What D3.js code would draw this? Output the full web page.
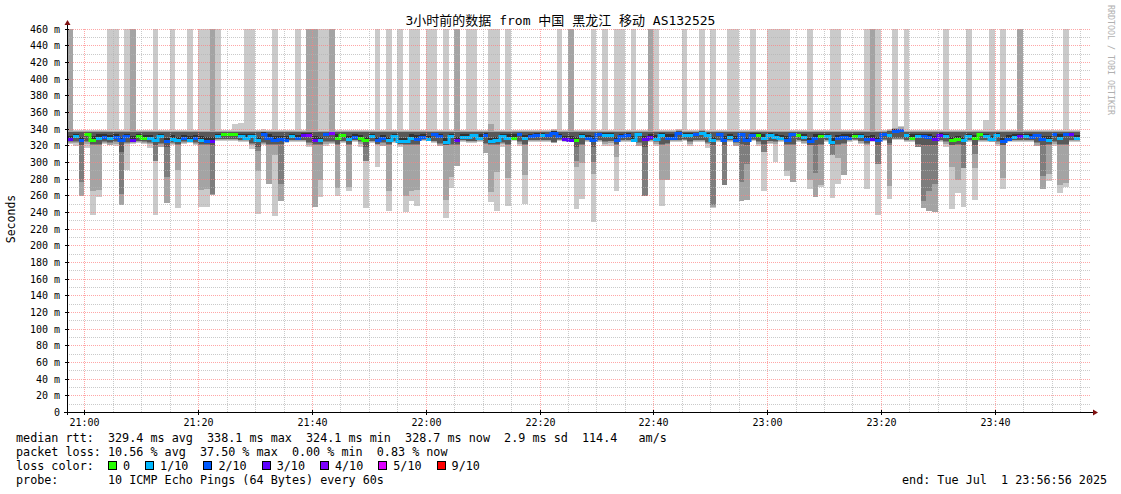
<!DOCTYPE html>
<html><head><meta charset="utf-8">
<script src="https://cdn.jsdelivr.net/npm/d3@7"></script>
<style>
html,body{margin:0;padding:0;background:#fff;}
svg{display:block;}
text{font-family:"DejaVu Sans Mono","Noto Sans CJK SC",monospace;}
</style></head><body>
<svg id="c" width="1121" height="494"></svg>
<script>
// ---- data: one value per minute, starting 20:57 ----
const medianRtt = [327.5,331.5,325.9,333.1,326.7,329.1,329.9,328.7,329.9,325.9,
331.5,326.3,331.5,328.7,328.3,325.9,331.5,325.1,327.9,325.9,
328.7,326.7,328.3,326.7,325.5,325.5,330.7,333.5,333.1,333.1,
331.5,329.1,331.5,325.9,333.9,329.1,326.3,327.5,326.3,330.7,
328.3,332.7,332.3,326.5,325.9,333.1,334.3,329.1,331.9,327.1,
330.3,328.3,325.9,331.5,325.9,328.7,325.9,331.5,325.1,325.1,
329.1,327.9,330.3,327.1,333.5,331.5,324.3,330.7,325.9,329.9,
330.3,331.9,329.0,332.7,325.1,325.7,330.5,329.1,329.1,333.5,
328.7,331.1,332.7,332.7,331.9,335.1,331.1,327.5,326.7,326.1,
330.5,328.3,326.5,333.5,332.7,332.3,325.9,331.5,332.7,326.7,
333.5,327.7,330.3,327.9,332.3,329.1,329.1,334.7,332.7,332.3,
333.1,334.3,332.3,325.9,333.5,326.7,330.3,326.7,333.5,325.9,
332.7,332.1,329.1,332.3,329.5,328.7,326.7,332.9,331.9,329.5,
324.9,329.1,330.7,331.3,324.3,328.3,330.3,329.1,331.3,331.3,
327.5,327.9,325.9,333.5,331.9,337.5,338.1,332.0,328.9,331.5,
331.1,330.3,327.5,332.7,330.7,326.0,327.0,325.9,330.9,328.5,
332.9,330.7,326.9,332.5,325.1,327.9,329.5,331.5,330.7,330.3,
331.7,327.7,326.7,333.3,329.1,333.1,333.1,328.7];

// lost pings per minute (index into lossColors)
const lossIdx = [3,1,2,0,0,1,2,1,2,2, 2,3,0,0,1,1,1,2,1,1, 2,1,2,1,2,3,1,0,0,0, 1,1,1,1,2,2,
2,2,2,1,2,3,4,3,1,2, 4,0,0,1,2,0,0,1,2,2, 1,1,1,1,1,2,2,1,2,2, 1,1,3,1,1,1,
1,2,1,1,1,1,0,2,1,2, 2,1,2,2,2,3,3,0,1,2, 2,2,1,1,2,2,2,1,1,3, 3,1,1,2,2,2,
1,1,2,1,1,1,2,2,1,2, 2,2,2,0,1,1,1,1,2,2, 0,1,2,2,0,1,1,2,2,2, 0,1,2,3,2,2,
1,2,2,1,0,1,2,2,3,3, 1,0,0,1,1,0,0,1,1,1, 2,2,1,3,1,2,2,2,1,2, 1,2,3,1];

// smoke: outermost ping pair (light), 2nd pair (mid), 3rd pair (dark), 4th pair (inner), 5th (core)
const topLight = [999,338.5,338.5,338.5,338.5,338.5,338.5,999,999,338.5,
999,999,338.5,338.5,338.5,999,338.5,338.5,999,338.5,
338.5,999,338.5,999,999,999,999,338.5,338.5,345,
347,999,999,338.5,339,338.5,999,338.5,338.5,338.5,
999,338.5,999,999,999,999,999,338.5,338.5,338.5,
338.5,338.5,338.5,338.5,999,338.5,999,338.5,999,338.5,
999,999,338.5,999,999,338.5,999,338.5,999,338.5,
999,999,338.5,338.5,999,999,338.5,999,338.5,338.5,
338.5,338.5,338.5,338.5,338.5,339,999,338.5,999,338.5,
338.5,338.5,999,338.5,999,338.5,999,999,338.5,999,
338.5,338.5,999,999,338.5,338.5,338.5,339,999,338.5,
338.5,999,338.5,999,338.5,338.5,999,999,338.5,338.5,
999,338.5,338.5,999,999,999,999,338.5,338.5,338.5,
999,338.5,338.5,338.5,999,999,338.5,338.5,338.5,338.5,
999,999,999,338.5,339.5,999,342.5,999,338.5,338.5,
338.5,338.5,338.5,338.5,999,338.5,338.5,338.5,999,338.5,
338.5,350.7,999,338.5,999,338.5,338.5,999,338.5,338.5,
338.5,338.5,338.5,338.5,338.5,999,338.5,338.5];

const topMid = [999,337,337,337,337,337,337,337,337,337,
337,999,337,337,337,337,337,337,337,337,
337,337,337,337,337,999,337,337,337,337,
337,337,337,337,337.5,337,337,337,337,337,
337,337,999,999,337,337,999,337,337,337,
337,337,337,337,337,337,337,337,337,337,
337,337,337,337,337,337,337,337,999,337,
337,337,337,337,345.5,337,337,337,337,337,
337,337,337,337,337,338,337,337,999,337,
337,337,337,337,337,337,337,337,337,337,
337,337,999,337,337,337,337,338,337,337,
337,338,337,337,337,337.5,337,337,337,337,
337,337,337,337,337,337,337,337,337,337,
337,337,337,337,337,337,337,337,337,337,
337,999,337,337,338.5,341,341.5,337,337,337,
337,337,337,337,337,337,337,337,337,337,
337,337,337,337,337,337,337,999,337,337,
337,337,337,337,337,337,337,337];

const innerHigh = [335.5,335.5,335.5,336,335.5,335.5,335.5,335.5,335.5,335.5,
335.5,335.5,335.5,335.5,335.5,335.5,335.5,335.5,335.5,335.5,
335.5,335.5,335.5,335.5,335.5,335.5,335.5,336,336,336,
335.5,335.5,335.5,335.5,336,335.5,335.5,335.5,335.5,335.5,
335.5,335.5,335.5,335.5,335.5,336,336,335.5,335.5,335.5,
335.5,335.5,335.5,335.5,335.5,335.5,335.5,335.5,335.5,335.5,
335.5,335.5,335.5,335.5,336,335.5,335.5,335.5,335.5,335.5,
335.5,335.5,335.5,335.5,335.5,335.5,335.5,335.5,335.5,336,
335.5,335.5,335.5,335.5,335.5,337,335.5,335.5,335.5,335.5,
335.5,335.5,335.5,336,335.5,335.5,335.5,335.5,335.5,335.5,
336,335.5,335.5,335.5,335.5,335.5,335.5,336.5,335.5,335.5,
336,336.5,335.5,335.5,336,335.5,335.5,335.5,336,335.5,
335.5,335.5,335.5,335.5,335.5,335.5,335.5,335.5,335.5,335.5,
335.5,335.5,335.5,335.5,335.5,335.5,335.5,335.5,335.5,335.5,
335.5,335.5,335.5,336,336.5,339.5,340,335.5,335.5,335.5,
335.5,335.5,335.5,335.5,335.5,335.5,335.5,335.5,335.5,335.5,
335.5,335.5,335.5,335.5,335.5,335.5,335.5,335.5,335.5,335.5,
335.5,335.5,335.5,336,335.5,336,336,335.5];

const coreHigh = [331.5,334,330,335,330.5,333,334,332.5,334,330,
334,330.5,334,332.5,332,330,334,329,332,330,
332.5,330.5,332,330.5,329.5,329.5,334,335,335,335,
334,333,334,330,335.5,333,330.5,331.5,330.5,334,
332,334.5,334.5,330.5,330,335,335.5,333,334,331,
334,332,330,334,330,332.5,330,334,329,329,
333,332,334,331,335,334,328.5,334,330,334,
334,334,333,334.5,329,329.5,334,333,333,335,
332.5,334,334.5,334.5,334,336.5,334,331.5,330.5,330,
334,332,330.5,335,334.5,334.5,330,334,334.5,330.5,
335,331.5,334,332,334.5,333,333,336,334.5,334.5,
335,335.5,334.5,330,335,330.5,334,330.5,335,330,
334.5,334.5,333,334.5,333.5,332.5,330.5,334.5,334,333.5,
329,333,334,334,328.5,332,334,333,334,334,
331.5,332,330,335,334,339,339.5,334,333,334,
334,334,331.5,334.5,334,330,331,330,334,332.5,
334.5,334,331,334.5,329,332,333.5,334,334,334,
334,331.5,330.5,335,333,335,335,332.5];

const lowLight = [322,319.5,259.4,316.3,236.2,257.4,321,320.3,319,248.2,
290.7,322,323,322,316.3,236.2,318,250.2,320,244.2,
322,323,320,245.4,245.4,260,325,325,325,325,
324,324,316,237.4,320,274,234.6,252.6,323,324,
324,323.5,317.5,245.4,257.4,319.5,322,258.6,323,264.6,
323.5,317.5,244.2,323,293.5,319.5,240.6,323,317.5,239.4,
252.6,246.6,325.5,325,323,319.5,232.2,268.2,294.7,323.5,
323,323,323.5,310.3,251.4,241.4,317.5,246.6,325.5,319.5,
249.8,324,324,324,324,323,325.5,324,323.5,243,
255,323.5,227.4,324,319.5,319.5,264.6,324,324,324,
319.5,259.4,324,319.5,246.6,278.7,324,324,325.5,319.5,
324,323.5,316.5,244.2,324,272.2,323.5,319.5,252.6,254.6,
325.5,319.5,264.6,321,299.5,323.5,282.7,275.4,324,321,
267,257.4,269.4,324,256.2,273.8,284.7,324,325.5,321.5,
267,324,236.2,325.5,255,326,326,323.5,324,317.5,
244.2,240.6,240.2,324,317.5,243.4,262.6,245.4,324,254.2,
324,324,323.5,319.5,267,324,324,324,324,324,
319.5,267,276.6,319.5,262.2,270.2,324,324];

const lowMid = [323,323,259.4,322,264.6,265.8,323,320.3,322,248.2,
321,323,324,323,321,301.5,318,250.2,322,290.7,
323,324,322,265.8,267,260,326,326,326,326,
325,325,320,288.7,322,274,308.7,252.6,324,325,
325,325,320,245.4,278.7,322,323,268.6,324,270,
325,322,301.5,324,320,319.5,264.6,324,320,259.4,
264.6,265.8,326,325.5,324,319.5,254.6,281.5,294.7,325,
324,324,325,310.3,263.4,287.5,321,280.3,326,322,
284.7,325,325,325,325,323,326,325,325,294,
299,325,285,325,322,323,306.3,325,325,325,
319.5,259.4,325,322,278.7,278.7,325,325,326,322,
325,325,321,246,325,272.2,325,319.5,252.6,254.6,
326,322,312.3,323,322,325,289.5,275.4,325,323,
278.7,257.4,272.6,325,308.7,305,284.7,325,326,323,
320,325,297.5,326,271.4,327,327,325,325,317.5,
244.2,240.6,240.2,325,322,293.5,278.3,292.3,325,292.3,
325,325,324,322,280.7,325,325,325,325,325,
319.5,267,285,322,272.6,275,325,325];

const lowDark = [324,324,275.5,324,320,320,324,323,324,261.4,
323,324,325,324,323,301.5,322,281.5,323,320,
324,325,323,320,320,261.4,327,327,327,327,
326,326,322,313.5,323,320,320,273.8,324.5,326,
326,326,323,320,320,324,324,320,325,320,
326,324,301.5,325,321,323,320,325,321,320,
320,320,326.5,326,325,322,320,320,320,326,
325,325,326,322,320,320,323,320,326.5,324,
320,326,326,326,326,323.5,326.5,325.5,325.5,301.5,
320,326,300.3,326,324,325,320,326,326,325.5,
323,259.4,326,324,320,322,326,326,326.5,324,
326,326,323,248.6,326,272.2,326,323,276.2,297.5,
326.5,324,312.3,325,324,326,320,320,326,325,
320,286.3,320,326,308.7,320,322,326,326.5,325,
322,325.5,297.5,326.5,320,328,328,326,326,317.5,
253.4,265.4,273.4,326,324,320,320,292.3,326,309,
326,326,325,324,320,326,326,326,326,326,
323,283.5,320,324,320,320,326,326];

const innerLow = [324.5,324.5,320.5,325,321,322,324.5,324,324.5,311.5,
324,324.5,325.5,324.5,324,320.5,323,318,324,321,
324.5,325.5,324,321,321,320.5,327.5,327.5,327.5,327.5,
326.5,326.5,323,318,324,322,321,321,325,326.5,
326.5,326.5,324,321,321,325,325,322,325.5,321,
326.5,324.5,318,325.5,321.5,324,321,325.5,321.5,321,
321,321,327,326.5,325.5,323,320.5,322,321,326.5,
325.5,325.5,326.5,323,321,321,324,322,327,325,
322,326.5,326.5,326.5,326.5,324,327,326,326,318,
322,326.5,318,326.5,325,325.5,321,326.5,326.5,326,
324,318,326.5,324.5,322,323,326.5,326.5,327,325,
326.5,326.5,324,320.5,326.5,320,326.5,324,321,320,
327,325,321,325.5,324.5,326.5,321,322,326.5,325.5,
320.5,320,322,326.5,320,321,323,326.5,327,325.5,
323,326,320,327,323,329,329,326.5,326.5,322,
320,320,320,326.5,324.5,320.5,321,320,326.5,320,
326.5,326.5,325.5,325,320.5,326.5,326.5,326.5,326.5,326.5,
324,320,321,325,322,322,326.5,326.5];

const lossColors = ["#26ff00","#00b8ff","#0059ff","#5e00ff","#7e00ff","#dd00ff","#ff0000"];
const lossLabels = ["0","1/10","2/10","3/10","4/10","5/10","9/10"];
const smokeColors = ["#cacaca","#a4a4a4","#7e7e7e","#585858","#323232"];
const yTicks = [0,20,40,60,80,100,120,140,160,180,200,220,240,260,280,300,320,340,360,380,400,420,440,460];
const titleText = "3小时前的数据 from 中国 黑龙江 移动 AS132525";
const legendLines = [
  "median rtt:  329.4 ms avg  338.1 ms max  324.1 ms min  328.7 ms now  2.9 ms sd  114.4   am/s",
  "packet loss: 10.56 % avg  37.50 % max  0.00 % min  0.83 % now",
  "loss color:",
  "probe:       10 ICMP Echo Pings (64 Bytes) every 60s"
];
const endText = "end: Tue Jul  1 23:56:56 2025";

// ---- drawing ----
const svg = d3.select('#c');
svg.append('rect').attr('width',1121).attr('height',494).attr('fill','#fff');
const start = new Date(2025,6,1,20,56,56), end = new Date(2025,6,1,23,56,56);
const firstMinute = new Date(2025,6,1,20,57,0);
const X0 = 67, X1 = 1091, Y0 = 412, YT = 28.5;
const x = d3.scaleTime().domain([start,end]).range([X0,X1]);
const y = d3.scaleLinear().domain([0,460]).range([Y0,YT]);
const N = medianRtt.length;
const tOf = i => d3.timeMinute.offset(firstMinute, i);
const edge = i => Math.round(x(tOf(i)));
const py = v => Math.round(y(Math.min(v, 470)));

svg.append('clipPath').attr('id','pc').append('rect')
  .attr('x',X0).attr('y',29).attr('width',X1-X0).attr('height',Y0-29);
const plot = svg.append('g').attr('clip-path','url(#pc)');

function band(color, lo, hi){
  plot.append('g').attr('fill',color).attr('shape-rendering','crispEdges')
    .selectAll('rect').data(d3.range(N)).join('rect')
    .attr('x', i => edge(i)).attr('width', i => edge(i+1)-edge(i))
    .attr('y', i => py(hi[i]))
    .attr('height', i => Math.max(0, py(lo[i]) - py(hi[i])));
}
band(smokeColors[0], lowLight, topLight);
band(smokeColors[1], lowMid, topMid);
band(smokeColors[2], lowDark, innerHigh);
band(smokeColors[3], innerLow, innerHigh);
band(smokeColors[4], medianRtt, coreHigh);

// grid (on top of smoke)
const grid = svg.append('g').attr('shape-rendering','crispEdges');
for (let v = 10; v <= 460; v += 10) {
  const major = v % 20 === 0;
  const yy = Math.round(y(v)) + 0.5;
  grid.append('line').attr('x1',X0).attr('x2',X1).attr('y1',yy).attr('y2',yy)
    .attr('stroke', major ? 'rgba(255,128,128,0.7)' : 'rgba(180,180,180,0.7)')
    .attr('stroke-dasharray','1,1');
}
d3.timeMinute.every(5).range(start, end).forEach(t => {
  const major = t.getMinutes() % 20 === 0;
  const xx = Math.round(x(t)) + 0.5;
  grid.append('line').attr('x1',xx).attr('x2',xx).attr('y1',29).attr('y2',Y0)
    .attr('stroke', major ? 'rgba(255,128,128,0.7)' : 'rgba(180,180,180,0.7)')
    .attr('stroke-dasharray','1,1');
});

// median line, coloured by loss (step line, LINE3)
const paths = lossColors.map(() => d3.path());
for (let i = 0; i < N; i++) {
  const p = paths[lossIdx[i]];
  const ym = Math.round(y(medianRtt[i])) + 0.5;
  if (i > 0 && lossIdx[i-1] === lossIdx[i]) p.lineTo(edge(i), ym);
  else p.moveTo(edge(i), ym);
  p.lineTo(edge(i+1), ym);
}
plot.append('g').selectAll('path').data(paths).join('path')
  .attr('d', p => p.toString()).attr('fill','none')
  .attr('stroke', (p,k) => lossColors[k]).attr('stroke-width',3);

// axes
svg.append('line').attr('x1',X0-3).attr('x2',X1+2).attr('y1',Y0+0.5).attr('y2',Y0+0.5)
  .attr('stroke','#000').attr('shape-rendering','crispEdges');
svg.append('line').attr('x1',X0+0.5).attr('x2',X0+0.5).attr('y1',Y0+3).attr('y2',24)
  .attr('stroke','#000').attr('shape-rendering','crispEdges');
svg.append('path').attr('d',`M${X1+2},${Y0-2.5}L${X1+7},${Y0+0.5}L${X1+2},${Y0+3.5}Z`).attr('fill','#7f1010');
svg.append('path').attr('d',`M${X0-2.5},${25}L${X0+0.5},${20}L${X0+3.5},${25}Z`).attr('fill','#7f1010');

// y ticks & labels
yTicks.forEach(v => {
  const yy = Math.round(y(v)) + 0.5;
  svg.append('line').attr('x1',X0-2).attr('x2',X0+2).attr('y1',yy).attr('y2',yy).attr('stroke','#000').attr('shape-rendering','crispEdges');
  svg.append('text').attr('x',60).attr('y',yy).attr('dy','0.35em').attr('text-anchor','end')
    .attr('font-size','10px').attr('fill','#000').text(v === 0 ? '0' : v + ' m');
});
// x labels
d3.timeMinute.every(20).range(start, end).forEach(t => {
  const xx = Math.round(x(t)) + 0.5;
  svg.append('line').attr('x1',xx).attr('x2',xx).attr('y1',Y0-2).attr('y2',Y0+3).attr('stroke','#000').attr('shape-rendering','crispEdges');
  svg.append('text').attr('x',xx).attr('y',425.5).attr('text-anchor','middle')
    .attr('font-size','10px').text(d3.timeFormat('%H:%M')(t));
});

// title, axis label, watermark
svg.append('text').attr('x',560.5).attr('y',25).attr('text-anchor','middle')
  .attr('font-size','13px').text(titleText);
svg.append('text').attr('transform','translate(14.5,219) rotate(-90)').attr('text-anchor','middle')
  .attr('font-size','11.5px').text('Seconds');
svg.append('text').attr('transform','translate(1108,5) rotate(90)')
  .attr('font-size','8.3px').attr('fill','#b0b0b0').text('RRDTOOL / TOBI OETIKER');

// legend
const LFS = 11.75;
const rows = [442, 456, 470, 484];
legendLines.forEach((s, k) => {
  svg.append('text').attr('x',16).attr('y',rows[k]).attr('font-size',LFS+'px')
    .attr('xml:space','preserve').style('white-space','pre').text(s);
});
let bx = 108;
lossLabels.forEach((lab, k) => {
  svg.append('rect').attr('x',bx+0.5).attr('y',rows[2]-8.5).attr('width',8).attr('height',8)
    .attr('fill',lossColors[k]).attr('stroke','#000').attr('shape-rendering','crispEdges');
  const t = svg.append('text').attr('x',bx+15).attr('y',rows[2]).attr('font-size',LFS+'px').text(lab);
  bx = bx + 15 + t.node().getComputedTextLength() + 15;
});
svg.append('text').attr('x',902).attr('y',rows[3]).attr('font-size',LFS+'px')
  .style('white-space','pre').text(endText);
</script>
</body></html>
